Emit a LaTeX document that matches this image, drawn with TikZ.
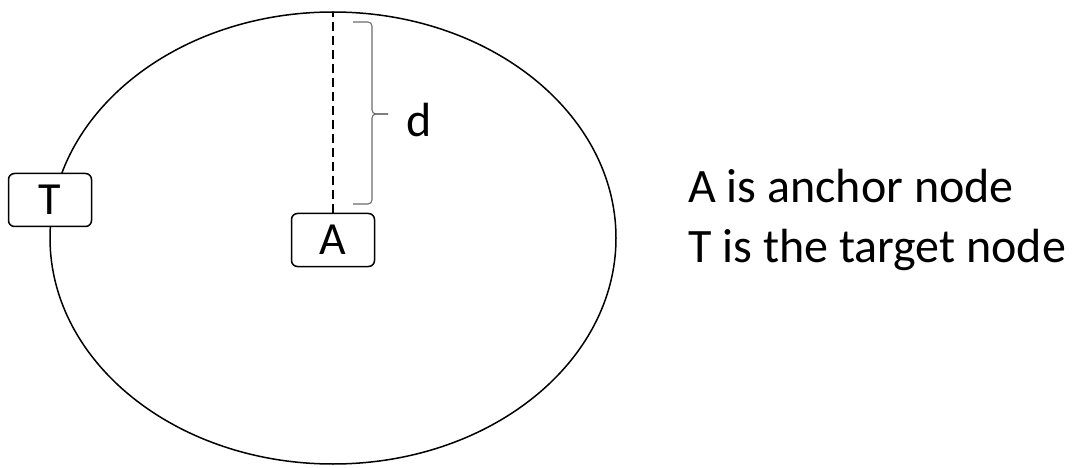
\documentclass[tikz,border=0pt]{standalone}
\usepackage{fontspec}
\setmainfont{Carlito}
\begin{document}
\begin{tikzpicture}[x=1pt,y=-1pt,
  box/.style={draw,line width=1.5pt,rounded corners=6pt,fill=white,minimum width=83pt,minimum height=53pt,inner sep=0pt,font=\fontsize{46}{50}\selectfont},
  label/.style={anchor=base west,inner sep=0pt,font=\fontsize{48}{58}\selectfont},
  bracestyle/.style={draw=gray!85!black,line width=1.1pt,rounded corners=4pt}]
\useasboundingbox (0,0) rectangle (1072,468);
\draw[line width=1.5pt] (333,238) ellipse [x radius=283, y radius=226];
\coordinate (top) at (333,12);
\coordinate (bt) at (353,22);
\coordinate (bb) at (353,204);
\coordinate (tip) at (388,114);
\node[box] (T) at (50,200) {T};
\node[box] (A) at (333,240) {A};
\draw[line width=1.5pt,dash pattern=on 9pt off 5pt] (A.north) -- (top);
\path[bracestyle] (bt) -| (372,114) -- (tip);
\path[bracestyle] (bb) -| (372,114) -- (tip);
\node[anchor=base west,inner sep=0pt,font=\fontsize{48}{50}\selectfont] (d) at (406,137) {d};
\node[label] (l1) at (688,203) {A is anchor node};
\node[label] (l2) at (688,262) {T is the target node};
\end{tikzpicture}
\end{document}
